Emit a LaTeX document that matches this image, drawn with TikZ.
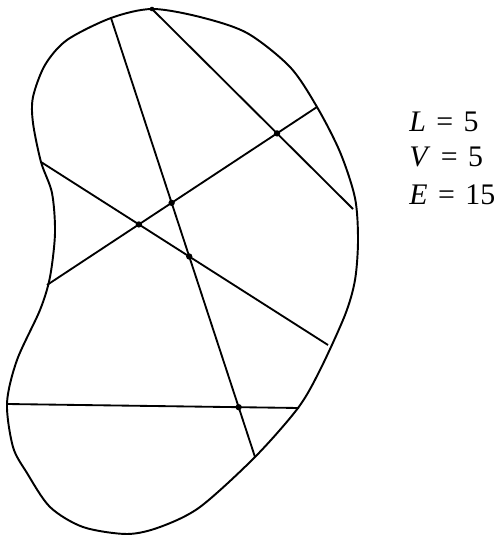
\documentclass[tikz,border=0pt]{standalone}
\usepackage{fontspec}
\setmainfont{Liberation Serif}
\usepackage{tikz}
\usetikzlibrary{calc}

\begin{document}
\begin{tikzpicture}[
  x=0.02cm, y=-0.02cm,
  boundary/.style={draw, line width=1.1pt, line join=round},
  chord/.style={draw, line width=1.05pt},
  count/.style={anchor=base west, font=\fontsize{17}{20}\selectfont, inner sep=0pt}
  ]
  \useasboundingbox (0,0) rectangle (493,536);
  % the bean-shaped region
  \draw[boundary] plot[smooth cycle, tension=0.5] coordinates {
    (152,9) (200,17) (247,33) (290,67) (317,107) (340,152)
    (355,198) (358,240) (355,280) (345,315) (320,370)
    (298,408) (255,457) (200,507) (160,527) (127,534)
    (83,527) (50,507) (27,473) (13,447) (7,403) (17,360) (40,310)
    (50,277) (55,233) (52,193) (41,162) (33,123) (33,97)
    (45,65) (67,40) (111,18)};

  % ends of the five lines on the boundary
  \coordinate (a1) at (111,18);
  \coordinate (a2) at (255,457);
  \coordinate (b1) at (152,9);
  \coordinate (b2) at (353,209);
  \coordinate (c1) at (47,285);
  \coordinate (c2) at (317,107);
  \coordinate (d1) at (41,162);
  \coordinate (d2) at (328,345);
  \coordinate (e1) at (7,404);
  \coordinate (e2) at (299,408);
  \draw[chord] (a1) -- (a2);
  \draw[chord] (b1) -- (b2);
  \draw[chord] (c1) -- (c2);
  \draw[chord] (d1) -- (d2);
  \draw[chord] (e1) -- (e2);

  % vertices
  \coordinate (vbc) at (intersection of b1--b2 and c1--c2);
  \coordinate (vac) at (intersection of a1--a2 and c1--c2);
  \coordinate (vcd) at (intersection of c1--c2 and d1--d2);
  \coordinate (vad) at (intersection of a1--a2 and d1--d2);
  \coordinate (vae) at (intersection of a1--a2 and e1--e2);
  \fill (vbc) circle (1.8pt);
  \fill (vac) circle (1.8pt);
  \fill (vcd) circle (1.8pt);
  \fill (vad) circle (1.8pt);
  \fill (vae) circle (1.8pt);
  \fill (b1) circle (1.3pt);

  % counts
  \node[count] (lines) at (409,132) {\textit{L}\hspace{0.35em}=\hspace{0.35em}5};
  \node[count] (verts) at (409,167) {\textit{V}\hspace{0.35em}=\hspace{0.35em}5};
  \node[count] (edges) at (409,205) {\textit{E}\hspace{0.35em}=\hspace{0.35em}15};
\end{tikzpicture}
\end{document}
